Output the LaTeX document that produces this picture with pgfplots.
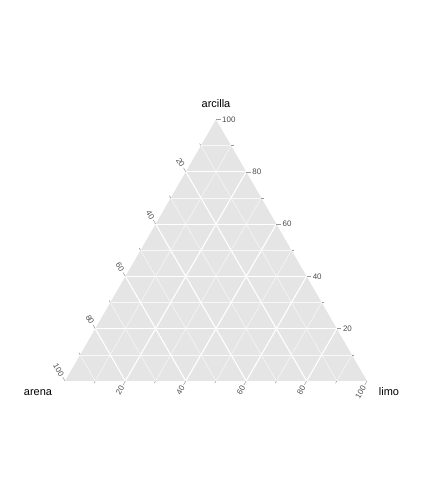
\documentclass[border=0pt]{standalone}
\usepackage{pgfplots}
\pgfplotsset{compat=1.18}
\usepackage{fontspec}
\setmainfont{Liberation Sans}
\usetikzlibrary{calc}
\definecolor{panel}{HTML}{E5E5E5}
\definecolor{ticktext}{HTML}{4D4D4D}
\definecolor{tickline}{HTML}{999999}
\begin{document}
\begin{tikzpicture}[x=1bp,y=1bp]
\begin{axis}[at={(0,0)}, anchor=south west, scale only axis,
  width=432bp, height=504bp, xmin=0, xmax=432, ymin=0, ymax=504,
  hide axis, clip=false]
\addplot[fill=panel, draw=none] coordinates {(65,123) (367,123) (216,384.54)} -- cycle;
\coordinate (A) at (axis cs:65,123);
\coordinate (L) at (axis cs:367,123);
\coordinate (C) at (axis cs:216,384.54);
\end{axis}
% grid
\foreach \k in {1,...,9}{
  \pgfmathsetmacro\p{\k/10}
  \pgfmathsetmacro\q{1-\k/10}
  \ifodd\k \def\w{0.55bp}\def\c{white!70!panel}\else\def\w{1.1bp}\def\c{white}\fi
  \draw[\c, line width=\w] (barycentric cs:C=\p,A=\q) -- (barycentric cs:C=\p,L=\q);
  \draw[\c, line width=\w] (barycentric cs:A=\p,C=\q) -- (barycentric cs:A=\p,L=\q);
  \draw[\c, line width=\w] (barycentric cs:L=\p,A=\q) -- (barycentric cs:L=\p,C=\q);
}
% ticks and labels
\foreach \k in {1,...,10}{
  \pgfmathsetmacro\p{\k/10}
  \pgfmathsetmacro\q{1-\k/10}
  \ifodd\k \def\len{2.5bp}\else\def\len{4.5bp}\fi
  \draw[tickline, line width=0.5bp] (barycentric cs:C=\p,L=\q) -- ++(0:\len);
  \draw[tickline, line width=0.5bp] (barycentric cs:A=\p,C=\q) -- ++(120:\len);
  \draw[tickline, line width=0.5bp] (barycentric cs:L=\p,A=\q) -- ++(240:\len);
  \ifodd\k\else
    \node[anchor=west, inner sep=0pt, text=ticktext, font=\fontsize{8}{9}\selectfont]
      at ($(barycentric cs:C=\p,L=\q)+(0:6bp)$) {\the\numexpr\k*10\relax};
    \node[anchor=east, rotate=-60, inner sep=0pt, text=ticktext, font=\fontsize{8}{9}\selectfont]
      at ($(barycentric cs:A=\p,C=\q)+(120:6bp)$) {\the\numexpr\k*10\relax};
    \node[anchor=east, rotate=60, inner sep=0pt, text=ticktext, font=\fontsize{8}{9}\selectfont]
      at ($(barycentric cs:L=\p,A=\q)+(240:6bp)$) {\the\numexpr\k*10\relax};
  \fi
}
% axis titles
\node[anchor=base, inner sep=0pt, font=\fontsize{11}{13}\selectfont] at (216,396) {arcilla};
\node[anchor=base, inner sep=0pt, font=\fontsize{11}{13}\selectfont] at (38,108) {arena};
\node[anchor=base, inner sep=0pt, font=\fontsize{11}{13}\selectfont] at (389,108) {limo};
\pgfresetboundingbox
\path[use as bounding box] (0,0) rectangle (432,504);
\end{tikzpicture}
\end{document}
